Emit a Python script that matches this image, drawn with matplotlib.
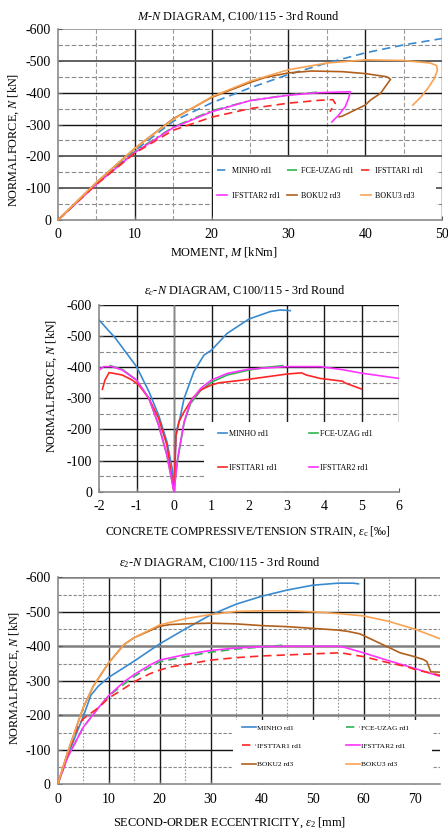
import numpy as np
import matplotlib
matplotlib.use("Agg")
import matplotlib.pyplot as plt
from matplotlib.patches import Rectangle

plt.rcParams['font.family'] = ['Liberation Serif', 'DejaVu Serif']
plt.rcParams['mathtext.fontset'] = 'custom'
plt.rcParams['mathtext.rm'] = 'Liberation Serif'
plt.rcParams['mathtext.it'] = 'Liberation Serif:italic'
plt.rcParams['axes.unicode_minus'] = False

# ---- M-N diagram ----
mn_minho_m = [0, 5, 10, 15, 20, 25, 30, 35, 40, 45, 50]
mn_minho_n = [0, -115, -218, -310, -368, -415, -457, -493, -525, -550, -570]
mn_fce_m = [0, 5, 10, 15, 20, 25, 30, 34]
mn_fce_n = [0, -115, -215, -292, -343, -375, -393, -402]
mn_ifs1_m = [0, 5, 10, 15, 20, 25, 30, 34, 35.8, 36.1, 35.4]
mn_ifs1_n = [0, -112, -210, -282, -323, -350, -367, -376, -378, -366, -340]
mn_ifs2_m = [0, 5, 10, 15, 20, 25, 30, 34, 38.05, 37.83, 37.4, 36.53, 35.66]
mn_ifs2_n = [0, -112, -212, -290, -340, -375, -392, -400, -403, -382, -356, -329, -308]
mn_boku2_m = [0, 5, 10, 15, 20, 25, 27, 30, 33, 37, 40, 42.8, 43.3, 42.0, 40.7, 40.0, 37.0, 36.6]
mn_boku2_n = [0, -118, -225, -318, -385, -432, -448, -462, -468, -466, -460, -450, -442, -398, -377, -361, -326, -324]
mn_boku3_m = [0, 5, 10, 15, 20, 25, 30, 35, 40, 45, 48.5, 49.3, 49.4, 49.0, 48.2, 47.2, 46.2]
mn_boku3_n = [0, -118, -225, -316, -387, -436, -472, -493, -503, -501, -493, -485, -470, -445, -415, -385, -361]

# ---- eps_c-N diagram (tension branch / compression branch) ----
ec_minho_t = [0, -0.05, -0.19, -0.41, -0.67, -1.0, -1.56, -2.0]
ec_minho_tn = [0, -75, -161, -246, -322, -402, -493, -552]
ec_minho_c = [0, 0.06, 0.13, 0.27, 0.53, 0.8, 1.0, 1.42, 2.0, 2.57, 2.83, 3.1]
ec_minho_cn = [0, -195, -220, -300, -386, -439, -455, -509, -555, -579, -584, -582]
ec_fce_t = [0, -0.19, -0.41, -0.67, -1.0, -1.38, -1.7]
ec_fce_tn = [0, -118, -214, -300, -359, -393, -405]
ec_fce_c = [0, 0.08, 0.27, 0.44, 0.71, 1.0, 1.42, 2.0, 2.5, 2.9]
ec_fce_cn = [0, -90, -222, -283, -325, -352, -375, -391, -400, -405]
ec_ifs1_t = [0, -0.19, -0.41, -0.67, -0.94, -1.12, -1.38, -1.73, -1.84, -1.91]
ec_ifs1_tn = [0, -150, -236, -300, -343, -359, -375, -383, -359, -329]
ec_ifs1_c = [0, 0.05, 0.08, 0.13, 0.27, 0.49, 0.71, 1.0, 1.2, 1.86, 3.0, 3.4, 3.53, 3.9, 4.5, 4.55, 5.0]
ec_ifs1_cn = [0, -180, -193, -225, -257, -300, -327, -343, -350, -359, -378, -382, -375, -364, -355, -350, -330]
ec_ifs2_t = [0, -0.19, -0.41, -0.67, -1.0, -1.38, -1.65, -1.87, -2.0]
ec_ifs2_tn = [0, -118, -214, -300, -359, -391, -402, -402, -391]
ec_ifs2_c = [0, 0.1, 0.27, 0.44, 0.71, 1.0, 1.42, 2.0, 3.0, 3.9, 4.5, 5.0, 6.0]
ec_ifs2_cn = [0, -110, -225, -289, -332, -359, -380, -394, -402, -402, -392, -381, -364]

# ---- e2-N diagram ----
e2_minho = [0, 2, 5, 6.5, 8, 10, 15, 20, 25, 30, 35, 40, 45, 50, 55, 58, 59]
e2_minho_n = [0, -85, -196, -258, -285, -310, -357, -407, -450, -491, -522, -545, -563, -577, -583, -583, -581]
e2_fce = [0, 2, 5, 8, 10, 15, 20, 25, 30, 35, 40, 45]
e2_fce_n = [0, -80, -165, -222, -256, -313, -355, -370, -383, -392, -398, -404]
e2_ifs1 = [0, 2, 4, 5, 8, 10, 12, 15, 18, 20, 22, 25, 30, 35, 40, 45, 50, 55, 56, 60, 65, 68.5, 70, 75]
e2_ifs1_n = [0, -90, -170, -190, -222, -250, -268, -297, -320, -331, -340, -347, -360, -367, -372, -375, -378, -381, -380, -370, -352, -341, -333, -316]
e2_ifs2 = [0, 2, 5, 8, 10, 13, 15, 18, 20, 25, 30, 35, 40, 45, 50, 55, 56, 60, 65, 70, 75]
e2_ifs2_n = [0, -80, -165, -222, -257, -297, -318, -345, -360, -376, -388, -395, -399, -400, -400, -400, -398, -381, -358, -336, -313]
e2_boku2 = [0, 2, 5, 7, 10, 13, 15, 20, 22, 25, 30, 35, 40, 45, 50, 55, 57, 59.3, 67.2, 69.5, 71.7, 72.4, 73.2, 75]
e2_boku2_n = [0, -95, -222, -285, -352, -405, -425, -458, -463, -465, -467, -465, -460, -457, -452, -447, -443, -436, -381, -372, -362, -356, -326, -325]
e2_boku3 = [0, 2, 5, 7, 10, 13, 15, 20, 25, 30, 35, 40, 45, 50, 55, 60, 65, 70, 75]
e2_boku3_n = [0, -95, -222, -285, -352, -405, -425, -462, -480, -492, -501, -503, -503, -500, -495, -488, -472, -450, -422]

C_MINHO = '#3a8ad0'
C_FCE = '#2fb552'
C_IFS1 = '#ff2626'
C_IFS2 = '#ff33ff'
C_BOKU2 = '#b0601c'
C_BOKU3 = '#f9a352'
LW = 1.2
DASH = (0, (5, 3))
DASHDOT = (0, (6, 2, 1.5, 2))

W, H = 448, 831
fig = plt.figure(figsize=(W / 100, H / 100), dpi=100)


def px_axes(l, t, r, b):
    return fig.add_axes([l / W, 1 - b / H, (r - l) / W, (b - t) / H])


def setup(ax, xmin, xmax, xstep, xminor, vminor_ls, hminor_ls, hmaj_cols, vmaj_col='#1a1a1a', yzero_line=False):
    ax.set_xlim(xmin, xmax)
    ax.set_ylim(0, -600)
    ax.set_xticks(np.arange(xmin, xmax + 0.001, xstep))
    ax.set_yticks(np.arange(0, -601, -100))
    ax.xaxis.set_major_formatter(matplotlib.ticker.FormatStrFormatter('%d'))
    for y in range(-50, -600, -100):
        ax.axhline(y, color='#8a8a8a', lw=0.8, ls=hminor_ls, zorder=1)
    if xminor is not None:
        for x in np.arange(xmin + xminor, xmax, xstep):
            ax.axvline(x, color='#9a9a9a', lw=0.8, ls=vminor_ls, zorder=1)
    for x in np.arange(xmin + xstep, xmax + 0.001, xstep):
        ax.axvline(x, color=vmaj_col, lw=1.0, zorder=1)
    for y, (c, lw) in zip(range(-100, -601, -100), hmaj_cols):
        ax.axhline(y, color=c, lw=lw, zorder=1)
    if yzero_line:
        ax.axvline(0, color='#8a8a8a', lw=1.0, zorder=1.5)
    for s in ['top', 'right']:
        ax.spines[s].set_visible(False)
    for s in ['left', 'bottom']:
        ax.spines[s].set_color('#8a8a8a')
        ax.spines[s].set_linewidth(1.2)
    ax.tick_params(axis='both', length=3, direction='in', color='#555555', labelsize=10, pad=5)
    ax.tick_params(axis='x', pad=6)


def white_box(ax, x0, w, h):
    ax.add_patch(Rectangle((x0, 0), w, h, transform=ax.transAxes, facecolor='white',
                           edgecolor='none', zorder=2))


def legend(ax, handles, ncol, anchor, fs, hlen, hpad, colsp, lsp):
    ax.legend(handles, [h.get_label() for h in handles], ncol=ncol, loc='upper left',
              bbox_to_anchor=anchor, frameon=False, fontsize=fs, handlelength=hlen,
              handletextpad=hpad, columnspacing=colsp, labelspacing=lsp,
              borderaxespad=0, borderpad=0)


# ---------------- Panel 1 ----------------
ax1 = px_axes(58, 29, 442, 220)
setup(ax1, 0, 50, 10, 5, (0, (4, 2)), (0, (4, 2)),
      [('#555555', 1.3), ('#555555', 1.3), ('#111111', 1.0), ('#111111', 1.0), ('#555555', 1.3), ('#999999', 1.3)])
l_minho, = ax1.plot(mn_minho_m, mn_minho_n, color=C_MINHO, lw=LW, ls=DASH, zorder=3, label='MINHO rd1')
l_fce, = ax1.plot(mn_fce_m, mn_fce_n, color=C_FCE, lw=LW, ls=DASHDOT, zorder=3, label='FCE-UZAG rd1')
l_ifs2, = ax1.plot(mn_ifs2_m, mn_ifs2_n, color=C_IFS2, lw=LW, zorder=3, label='IFSTTAR2 rd1')
l_ifs1, = ax1.plot(mn_ifs1_m, mn_ifs1_n, color=C_IFS1, lw=LW, ls=DASH, zorder=3, label='IFSTTAR1 rd1')
l_b2, = ax1.plot(mn_boku2_m, mn_boku2_n, color=C_BOKU2, lw=LW, zorder=3, label='BOKU2 rd3')
l_b3, = ax1.plot(mn_boku3_m, mn_boku3_n, color=C_BOKU3, lw=LW, zorder=3, label='BOKU3 rd3')
white_box(ax1, 0.404, 0.58, 0.33)
legend(ax1, [l_minho, l_ifs2, l_fce, l_b2, l_ifs1, l_b3], 3, (0.414, 0.278),
       5.8, 1.25, 0.6, 0.8, 2.1)

fig.text(238 / W, 1 - 16.7 / H, '$M$-$N$ DIAGRAM, C100/115 - 3rd Round', ha='center', va='center', fontsize=8.8)
fig.text(224 / W, 1 - 253 / H, 'MOMENT, $M$ [kNm]', ha='center', va='center', fontsize=8.8)
fig.text(13.3 / W, 1 - 140 / H, 'NORMALFORCE, $N$ [kN]', ha='center', va='center', rotation=90, fontsize=8.8)

# ---------------- Panel 2 ----------------
ax2 = px_axes(99, 305, 399, 491.7)
setup(ax2, -2, 6, 1, None, '--', (0, (4, 2)),
      [('#111111', 1.0)] * 6, yzero_line=True)
for xs, ys, c, lab in [(ec_minho_t, ec_minho_tn, C_MINHO, None), (ec_minho_c, ec_minho_cn, C_MINHO, 'MINHO rd1'),
                       (ec_fce_t, ec_fce_tn, C_FCE, None), (ec_fce_c, ec_fce_cn, C_FCE, 'FCE-UZAG rd1'),
                       (ec_ifs1_t, ec_ifs1_tn, C_IFS1, None), (ec_ifs1_c, ec_ifs1_cn, C_IFS1, 'IFSTTAR1 rd1'),
                       (ec_ifs2_t, ec_ifs2_tn, C_IFS2, None), (ec_ifs2_c, ec_ifs2_cn, C_IFS2, 'IFSTTAR2 rd1')]:
    ax2.plot(xs, ys, color=c, lw=LW, zorder=3, label=lab)
white_box(ax2, 0.35, 0.65, 0.375)
hd, lb = ax2.get_legend_handles_labels()
legend(ax2, [hd[0], hd[2], hd[1], hd[3]], 2, (0.397, 0.329), 5.8, 1.1, 0.25, 4.0, 3.2)

fig.text(245 / W, 1 - 291 / H, r'$\varepsilon_c$-$N$ DIAGRAM, C100/115 - 3rd Round', ha='center', va='center', fontsize=8.8)
fig.text(248 / W, 1 - 531.7 / H, r'CONCRETE COMPRESSIVE/TENSION STRAIN, $\varepsilon_{\mathrm{c}}$ [‰]',
         ha='center', va='center', fontsize=8.6)
fig.text(51.7 / W, 1 - 385.8 / H, 'NORMALFORCE, $N$ [kN]', ha='center', va='center', rotation=90, fontsize=8.8)

# ---------------- Panel 3 ----------------
ax3 = px_axes(57.7, 577.3, 440, 784.3)
setup(ax3, 0, 75, 10, 5, (0, (1.5, 1.5)), (0, (3, 1.5)),
      [('#111111', 1.0), ('#808080', 1.8), ('#111111', 1.0), ('#808080', 1.8), ('#111111', 1.0), ('#808080', 1.8)])
ax3.set_xticks(np.arange(0, 71, 10))
ax3.set_xlim(0, 75)
p_minho, = ax3.plot(e2_minho, e2_minho_n, color=C_MINHO, lw=LW, zorder=3, label='MINHO rd1')
p_fce, = ax3.plot(e2_fce, e2_fce_n, color=C_FCE, lw=LW, ls=DASH, zorder=3, label='FCE-UZAG rd1')
p_ifs2, = ax3.plot(e2_ifs2, e2_ifs2_n, color=C_IFS2, lw=LW, zorder=3, label='IFSTTAR2 rd1')
p_ifs1, = ax3.plot(e2_ifs1, e2_ifs1_n, color=C_IFS1, lw=LW, ls=DASH, zorder=3, label='IFSTTAR1 rd1')
p_b2, = ax3.plot(e2_boku2, e2_boku2_n, color=C_BOKU2, lw=LW, zorder=3, label='BOKU2 rd3')
p_b3, = ax3.plot(e2_boku3, e2_boku3_n, color=C_BOKU3, lw=LW, zorder=3, label='BOKU3 rd3')
white_box(ax3, 0.459, 0.52, 0.31)
legend(ax3, [p_minho, p_ifs1, p_b2, p_fce, p_ifs2, p_b3], 2, (0.481, 0.288), 5.3, 1.9, 0.15, 6.1, 1.64)

fig.text(219.5 / W, 1 - 563 / H, r'$\varepsilon_2$-$N$ DIAGRAM, C100/115 - 3rd Round', ha='center', va='center', fontsize=8.8)
fig.text(230 / W, 1 - 822.7 / H, r'SECOND-ORDER ECCENTRICITY, $\varepsilon_2$ [mm]', ha='center', va='center', fontsize=8.8)
fig.text(15 / W, 1 - 677.5 / H, 'NORMALFORCE, $N$ [kN]', ha='center', va='center', rotation=90, fontsize=8.8)

fig.savefig('out.png', dpi=100)
